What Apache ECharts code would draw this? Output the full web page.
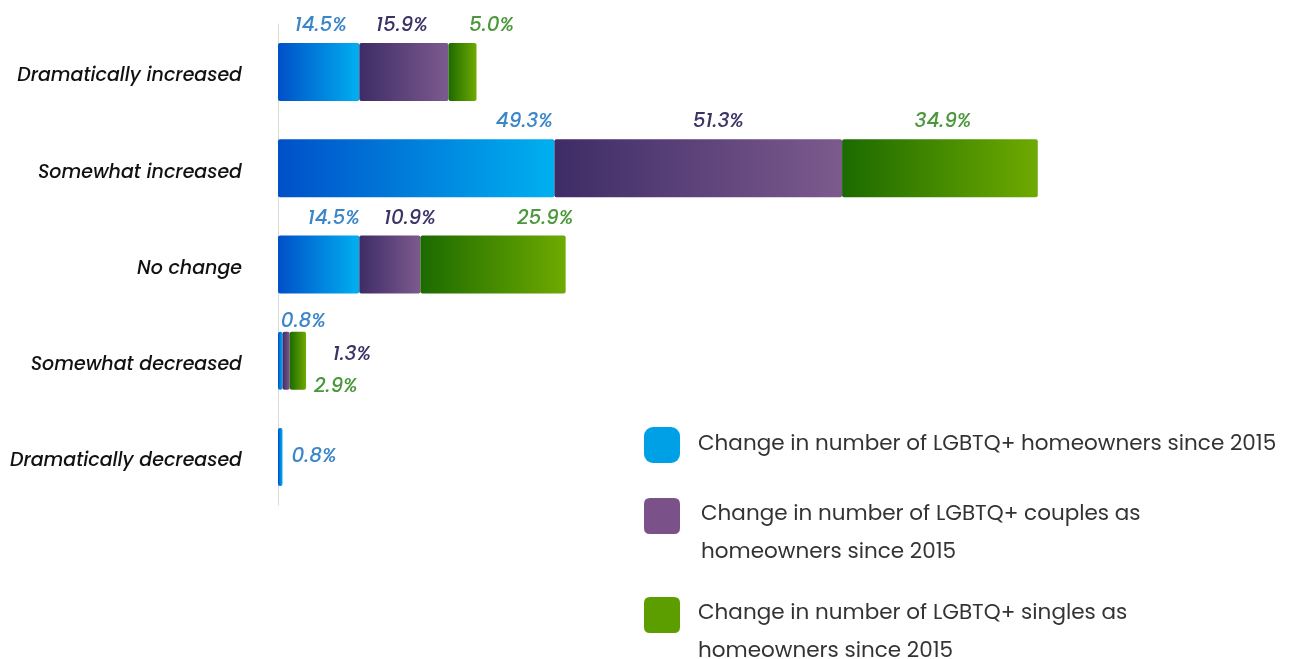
<!DOCTYPE html>
<html>
<head>
<meta charset="utf-8">
<script src="https://cdn.jsdelivr.net/npm/echarts@6/dist/echarts.min.js"></script>
<style>
  html, body { margin: 0; padding: 0; background: #fff; }
  #main { width: 1293px; height: 659px; }
</style>
</head>
<body>
<div id="main"></div>
<script>
// categories, top to bottom
var categories = [
  'Dramatically increased',
  'Somewhat increased',
  'No change',
  'Somewhat decreased',
  'Dramatically decreased'
];
// percentages
var homeowners = [14.5, 49.3, 14.5, 0.8, 0.8];
var couples = [15.9, 51.3, 10.9, 1.3, 0];
var singles = [5.0, 34.9, 25.9, 2.9, 0];

var seriesNames = [
  'Change in number of LGBTQ+ homeowners since 2015',
  'Change in number of LGBTQ+ couples as\nhomeowners since 2015',
  'Change in number of LGBTQ+ singles as\nhomeowners since 2015'
];

var font = 'Poppins, "Open Sans", sans-serif';

// label placement tweaks per series / row (style only)
var labelPlace = [
  [{ offset: [2, 0] }, { offset: [108, 0] }, { offset: [15, 0] }, { offset: [23, 0], distance: 0 }, { position: 'right', distance: 9, offset: [0, 0] }],
  [{ offset: [-2, 0] }, { offset: [20, 0] }, { offset: [20, 0] }, { position: 'right', distance: 43, offset: [0, -6] }, null],
  [{ offset: [29, 0] }, { offset: [3, 0] }, { offset: [52, 0] }, { position: 'right', distance: 8, offset: [0, 26] }, null]
];

var gradients = [
  ['#0050c8', '#00b0f0'],
  ['#3e2c66', '#7c5a8e'],
  ['#1c6a00', '#6eaa00']
];
var labelColors = ['#3a86c8', '#3b3366', '#4a983a'];
var legendColors = ['#00a0e6', '#7a5188', '#5c9e00'];

// rounded square sitting at the top of a taller box, so it lines up with the first text line
var tallIcon = 'path://M6,0 H30 Q36,0 36,6 V30 Q36,36 30,36 H6 Q0,36 0,30 V6 Q0,0 6,0 Z M0,72 L36,72 Z';

function buildSeries(vals, idx) {
  return {
    name: seriesNames[idx],
    type: 'bar',
    stack: 'all',
    barWidth: 58,
    itemStyle: {
      borderRadius: 2,
      color: new echarts.graphic.LinearGradient(0, 0, 1, 0, [
        { offset: 0, color: gradients[idx][0] },
        { offset: 1, color: gradients[idx][1] }
      ])
    },
    label: {
      show: true,
      position: 'top',
      distance: 7,
      color: labelColors[idx],
      fontFamily: font,
      fontStyle: 'italic',
      fontWeight: 500,
      fontSize: 20,
      formatter: function (p) { return p.value.toFixed(1) + '%'; }
    },
    data: vals.map(function (v, i) {
      var place = labelPlace[idx][i];
      if (!v || !place) return { value: v, label: { show: false } };
      return { value: v, label: place };
    })
  };
}

var legendTops = [421, 491, 590];
var legendTextPad = [13, 16, 13];

var chart = echarts.init(document.getElementById('main'));
chart.setOption({
  animation: false,
  grid: { left: 278, top: 24, width: 785, height: 481 },
  xAxis: {
    type: 'value',
    min: 0,
    max: 140,
    show: false
  },
  yAxis: {
    type: 'category',
    inverse: true,
    data: categories,
    axisLine: { show: true, lineStyle: { color: '#d9d9d9', width: 1 } },
    axisTick: { show: false },
    axisLabel: {
      margin: 36,
      formatter: function (v) { return '{c|' + v + '}'; },
      rich: {
        c: {
          color: '#111',
          fontFamily: font,
          fontStyle: 'italic',
          fontWeight: 500,
          fontSize: 19,
          padding: [9, 0, 0, 0]
        }
      }
    }
  },
  legend: seriesNames.map(function (n, i) {
    return {
      data: [{ name: n, itemStyle: { color: legendColors[i] } }],
      left: 639,
      top: legendTops[i],
      icon: i === 0 ? 'roundRect' : tallIcon,
      itemWidth: 36,
      itemHeight: i === 0 ? 36 : 72,
      selectedMode: false,
      textStyle: {
        color: '#333',
        fontFamily: font,
        fontSize: 21.5,
        lineHeight: 38,
        padding: [0, 0, 0, legendTextPad[i]]
      }
    };
  }),
  series: [
    buildSeries(homeowners, 0),
    buildSeries(couples, 1),
    buildSeries(singles, 2)
  ]
});
</script>
</body>
</html>
